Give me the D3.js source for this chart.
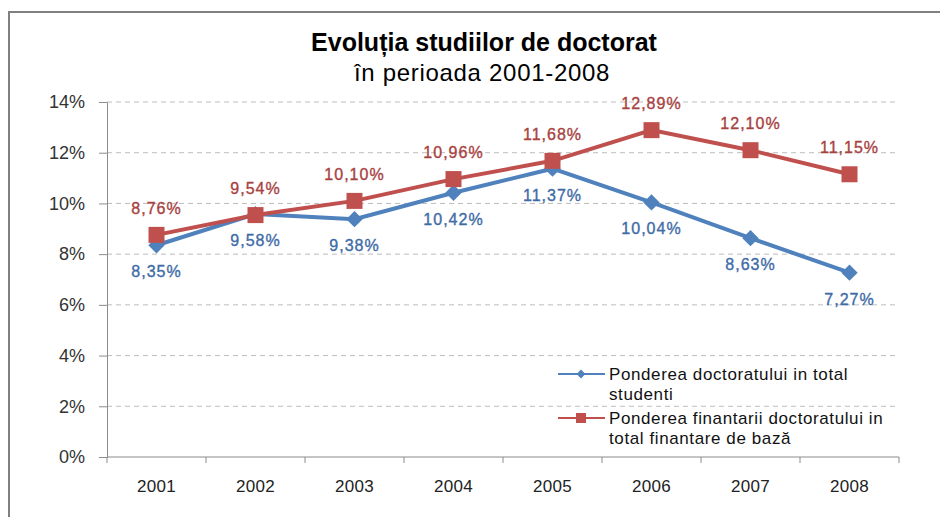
<!DOCTYPE html>
<html>
<head>
<meta charset="utf-8">
<script src="https://cdn.jsdelivr.net/npm/d3@7"></script>
<style>
  body { margin: 0; background: #fff; }
  text { font-family: "Liberation Sans", Arial, sans-serif; }
</style>
</head>
<body>
<svg id="chart"></svg>
<script>
let svgWidth = 940, svgHeight = 517

// data
const years = ['2001', '2002', '2003', '2004', '2005', '2006', '2007', '2008']
const pondereStudenti = [8.35, 9.58, 9.38, 10.42, 11.37, 10.04, 8.63, 7.27]
const pondereFinantare = [8.76, 9.54, 10.10, 10.96, 11.68, 12.89, 12.10, 11.15]
const yTicks = [0, 2, 4, 6, 8, 10, 12, 14]
const seriesNames = [
  ['Ponderea doctoratului in total', 'studenti'],
  ['Ponderea finantarii doctoratului in', 'total finantare de bază']
]

const blue = '#4f81bd', red = '#c0504d'
const blueText = '#3e6ba6', redText = '#a8423f'

let svg = d3.select('#chart').attr('width', svgWidth).attr('height', svgHeight)

// outer frame (only top and left show in the picture)
svg.append('path')
  .attr('d', `M9,${svgHeight} V12 H${svgWidth}`)
  .attr('fill', 'none').attr('stroke', '#808080').attr('stroke-width', 2)

// title
svg.append('text').attr('x', 484).attr('y', 51)
  .attr('text-anchor', 'middle').attr('font-size', 25).attr('font-weight', 'bold')
  .attr('fill', '#000').text('Evoluția studiilor de doctorat')
svg.append('text').attr('x', 482).attr('y', 81)
  .attr('text-anchor', 'middle').attr('font-size', 24).attr('letter-spacing', 0.7)
  .attr('fill', '#000').text('în perioada 2001-2008')

let x = d3.scaleBand().domain(years).range([107, 899])
let y = d3.scaleLinear().domain([0, 14]).range([457, 102])

let g = svg.append('g')

// gridlines
g.selectAll('.grid').data(yTicks.filter(d => d > 0)).enter().append('line')
  .attr('x1', 107).attr('x2', 899)
  .attr('y1', d => y(d)).attr('y2', d => y(d))
  .attr('stroke', '#bdbdbd').attr('stroke-width', 1).attr('stroke-dasharray', '5,4')

// y axis
let yAxis = g.append('g').attr('transform', 'translate(107,0)')
  .call(d3.axisLeft(y).tickValues(yTicks).tickSize(8).tickPadding(14).tickFormat(d => d + '%'))
yAxis.select('.domain').attr('stroke', '#8c8c8c')
yAxis.selectAll('.tick line').attr('stroke', '#8c8c8c')
yAxis.selectAll('text').attr('font-size', 18).attr('fill', '#333')
  .style('font-family', '"Liberation Sans", Arial, sans-serif')

// x axis, ticks on band boundaries
let xAxis = g.append('g').attr('transform', 'translate(0,457)')
xAxis.append('line').attr('x1', 107).attr('x2', 899).attr('stroke', '#8c8c8c')
xAxis.selectAll('.xt').data(years.concat(['end'])).enter().append('line')
  .attr('x1', (d, i) => i < years.length ? x(d) : x.range()[1])
  .attr('x2', (d, i) => i < years.length ? x(d) : x.range()[1])
  .attr('y1', 0).attr('y2', 6).attr('stroke', '#8c8c8c')
xAxis.selectAll('.xl').data(years).enter().append('text')
  .attr('x', d => x(d) + x.bandwidth() / 2).attr('y', 35)
  .attr('text-anchor', 'middle').attr('font-size', 17).attr('letter-spacing', 0.3)
  .attr('fill', '#222').text(d => d)

const cx = d => x(d) + x.bandwidth() / 2
const fmt = v => v.toFixed(2).replace('.', ',') + '%'

let line = d3.line().x((d, i) => cx(years[i])).y(d => y(d))

// blue series
g.append('path').datum(pondereStudenti)
  .attr('d', line).attr('fill', 'none').attr('stroke', blue).attr('stroke-width', 4)
g.selectAll('.diamond').data(pondereStudenti).enter().append('path')
  .attr('d', d3.symbol().type(d3.symbolDiamond2).size(170))
  .attr('transform', (d, i) => `translate(${cx(years[i])},${y(d)})`)
  .attr('fill', blue)

// red series
g.append('path').datum(pondereFinantare)
  .attr('d', line).attr('fill', 'none').attr('stroke', red).attr('stroke-width', 4)
g.selectAll('.square').data(pondereFinantare).enter().append('rect')
  .attr('x', (d, i) => cx(years[i]) - 8).attr('y', d => y(d) - 8)
  .attr('width', 16).attr('height', 16).attr('fill', red)

// data labels
g.selectAll('.lblB').data(pondereStudenti).enter().append('text')
  .attr('x', (d, i) => cx(years[i])).attr('y', d => y(d) + 32)
  .attr('text-anchor', 'middle').attr('font-size', 16).attr('letter-spacing', 1)
  .attr('fill', blueText).attr('stroke', blueText).attr('stroke-width', 0.35).text(fmt)
g.selectAll('.lblR').data(pondereFinantare).enter().append('text')
  .attr('x', (d, i) => cx(years[i])).attr('y', d => y(d) - 21)
  .attr('text-anchor', 'middle').attr('font-size', 16).attr('letter-spacing', 1)
  .attr('fill', redText).attr('stroke', redText).attr('stroke-width', 0.35).text(fmt)

// legend
let legend = svg.append('g')
const legY = [374, 418]
const legColors = [blue, red]
legY.forEach((ly, i) => {
  legend.append('line').attr('x1', 558).attr('x2', 605).attr('y1', ly).attr('y2', ly)
    .attr('stroke', legColors[i]).attr('stroke-width', 2)
  if (i === 0) {
    legend.append('path').attr('d', d3.symbol().type(d3.symbolDiamond2).size(50))
      .attr('transform', `translate(581,${ly})`).attr('fill', blue)
  } else {
    legend.append('rect').attr('x', 576).attr('y', ly - 5).attr('width', 10).attr('height', 10)
      .attr('fill', red)
  }
  seriesNames[i].forEach((t, j) => {
    legend.append('text').attr('x', 609).attr('y', ly + 6 + j * 20)
      .attr('font-size', 17).attr('letter-spacing', 0.6).attr('fill', '#111').text(t)
  })
})
</script>
</body>
</html>
